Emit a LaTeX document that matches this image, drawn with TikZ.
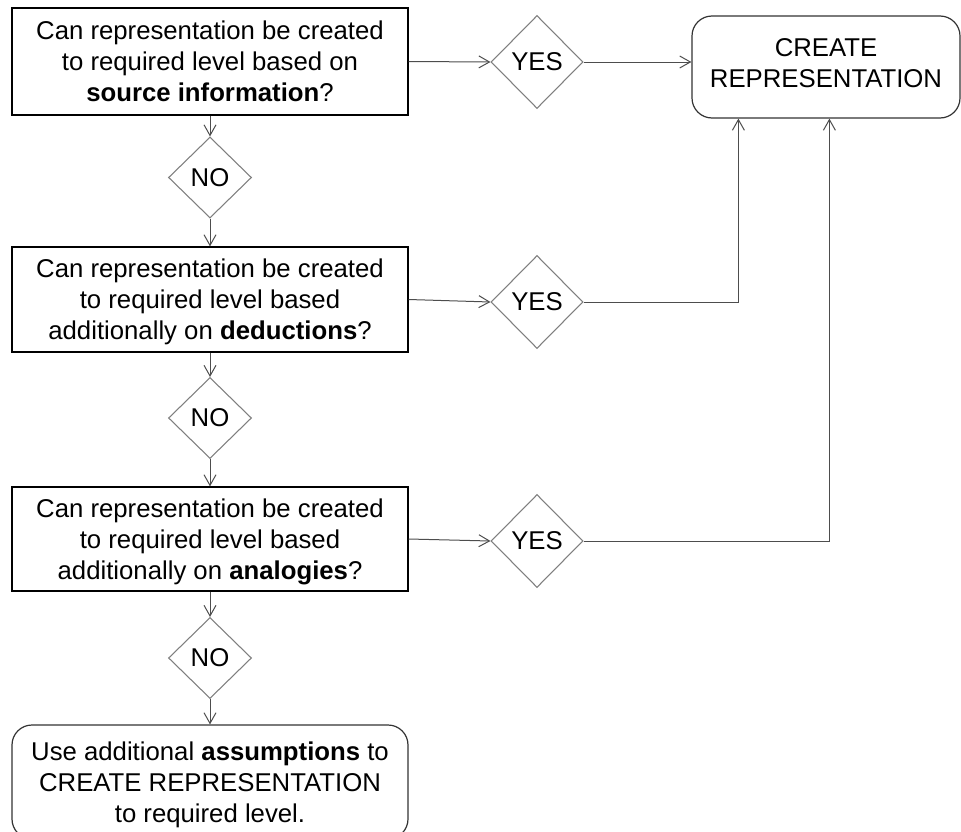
\documentclass[tikz,border=0pt]{standalone}
\usepackage{fontspec}
\setmainfont{Liberation Sans}
\usetikzlibrary{shapes.geometric,arrows.meta,calc}
\definecolor{diagline}{HTML}{7F7F7F}
\definecolor{arrowline}{HTML}{4D4D4D}
\begin{document}
\begin{tikzpicture}[x=0.75pt,y=-0.75pt,
  every node/.style={font=\fontsize{19.3pt}{23.25pt}\selectfont, align=center, inner sep=0pt},
  question/.style={draw=black, line width=0.9pt, rectangle, minimum width=297pt, text depth=0pt},
  outcome/.style={draw=black!80, line width=0.9pt, rectangle, rounded corners=15pt},
  choice/.style={draw=diagline, line width=0.8pt, diamond, inner sep=0pt},
  yesd/.style={choice, minimum width=69pt, minimum height=69.75pt},
  nod/.style={choice, minimum width=62.25pt, minimum height=60.75pt},
  flow/.style={draw=arrowline, line width=0.75pt, -{Straight Barb[length=8pt,width=9pt]}}
]
\useasboundingbox (0,0) rectangle (961,832);

% decision boxes
\node[question, minimum height=80.25pt] (b1) at (210,61.5)
  {Can representation be created\\to required level based on\\\textbf{source information}?};
\node[question, minimum height=78.75pt] (b2) at (210,299.5)
  {Can representation be created\\to required level based\\additionally on \textbf{deductions}?};
\node[question, minimum height=78pt] (b3) at (210,539)
  {Can representation be created\\to required level based\\additionally on \textbf{analogies}?};

% outcomes
\node[outcome, minimum width=201pt, minimum height=76.5pt, text depth=6pt] (cr) at (826,67)
  {CREATE\\REPRESENTATION};
\node[outcome, minimum width=297pt, minimum height=85.5pt, text depth=0pt] (fin) at (210,782)
  {Use additional \textbf{assumptions} to\\CREATE REPRESENTATION\\to required level.};

% answers
\node[yesd] (y1) at (537,62) {YES};
\node[yesd] (y2) at (537,302) {YES};
\node[yesd] (y3) at (537,541) {YES};
\node[nod] (n1) at (210,177.5) {NO};
\node[nod] (n2) at (210,418) {NO};
\node[nod] (n3) at (210,658) {NO};

% entry points on the bottom of the outcome box
\coordinate (in2) at ($(cr.south west)+(47,0)$);
\coordinate (in3) at ($(cr.south west)+(138,0)$);

% connectors
\draw[flow] (b1.east) -- (y1.west);
\draw[flow] (y1.east) -- (y1.east -| cr.west);
\draw[flow] (b2.east) -- (y2.west);
\draw[flow] (y2.east) -| (in2);
\draw[flow] (b3.east) -- (y3.west);
\draw[flow] (y3.east) -| (in3);

\draw[flow] (b1.south) -- (n1.north);
\draw[flow] (n1.south) -- (b2.north);
\draw[flow] (b2.south) -- (n2.north);
\draw[flow] (n2.south) -- (b3.north);
\draw[flow] (b3.south) -- (n3.north);
\draw[flow] (n3.south) -- (fin.north);
\end{tikzpicture}
\end{document}
